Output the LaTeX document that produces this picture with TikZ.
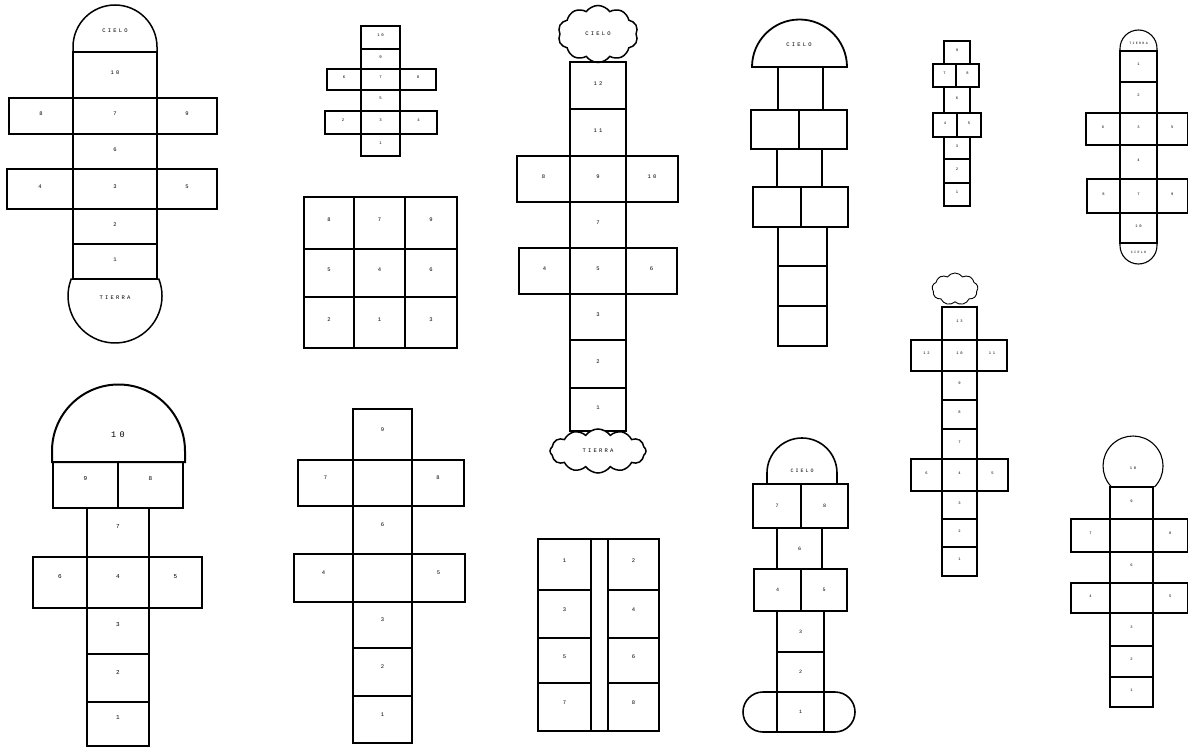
\documentclass[tikz,border=0pt]{standalone}
\usepackage{fontspec}
\newfontfamily\labfont{Liberation Mono}[LetterSpace=40]
\usetikzlibrary{shapes.symbols}
\tikzset{
  cl/.style={draw, line join=miter},
  lab/.style={inner sep=0pt},
  cloudnode/.style={cloud, draw, inner sep=0pt, cloud puff arc=110}
}
\def\lsh{2}
\newcommand\hcell[6]{\draw[cl] (#2,#3) rectangle (#4,#5); \node[lab] (#1) at ({(#2+#4)/2},{(#3+#5)/2-\lsh}) {#6};}
\newcommand\ecell[4]{\draw[cl] (#1,#2) rectangle (#3,#4);}
\newcommand\fs[1]{\labfont\fontsize{#1}{#1}\selectfont}
\begin{document}
\begin{tikzpicture}[x=1pt,y=-1pt]
\useasboundingbox (0,0) rectangle (1189,749);
\fill[white] (0,0) rectangle (1189,749);

% ---------- A: top left ----------
\begin{scope}[line width=1.5pt, font=\fs{5.5}]
\draw (73,52) -- (73,47) arc[start angle=180,end angle=360,radius=42] -- (157,52) -- cycle;
\node[lab] (aC) at (115,31) {CIELO};
\hcell{a10}{73}{52}{157}{98}{10}
\hcell{a8}{9}{98}{73}{134}{8}
\hcell{a7}{73}{98}{157}{134}{7}
\hcell{a9}{157}{98}{217}{134}{9}
\hcell{a6}{73}{134}{157}{169}{6}
\hcell{a4}{7}{169}{73}{209}{4}
\hcell{a3}{73}{169}{157}{209}{3}
\hcell{a5}{157}{169}{217}{209}{5}
\hcell{a2}{73}{209}{157}{244}{2}
\hcell{a1}{73}{244}{157}{279}{1}
\draw (71.2,279) arc[start angle=201.2,end angle=-21.2,radius=47] -- cycle;
\node[lab] (aT) at (115,298) {TIERRA};
\end{scope}

% ---------- B: small cross ----------
\begin{scope}[line width=1.1pt, font=\fs{4}]
\hcell{b10}{361}{26}{400}{49}{10}
\hcell{b9}{361}{49}{400}{69}{9}
\hcell{b6}{327}{69}{361}{90}{6}
\hcell{b7}{361}{69}{400}{90}{7}
\hcell{b8}{400}{69}{436}{90}{8}
\hcell{b5}{361}{90}{400}{111}{5}
\hcell{b2}{325}{111}{361}{134}{2}
\hcell{b3}{361}{111}{400}{134}{3}
\hcell{b4}{400}{111}{437}{134}{4}
\hcell{b1}{361}{134}{400}{156}{1}
\end{scope}

% ---------- grid ----------
\begin{scope}[line width=1.7pt, font=\fs{5.5}]
\def\lsh{3}
\hcell{g8a}{304}{197}{354}{249}{8}
\hcell{g7a}{354}{197}{405}{249}{7}
\hcell{g9a}{405}{197}{457}{249}{9}
\hcell{g5a}{304}{249}{354}{297}{5}
\hcell{g4a}{354}{249}{405}{297}{4}
\hcell{g6a}{405}{249}{457}{297}{6}
\hcell{g2a}{304}{297}{354}{348}{2}
\hcell{g1a}{354}{297}{405}{348}{1}
\hcell{g3a}{405}{297}{457}{348}{3}
\end{scope}

% ---------- C: tall with clouds ----------
\begin{scope}[line width=1.5pt, font=\fs{5.5}]
\node[cloudnode, cloud puffs=10, aspect=1.4, minimum width=80pt, minimum height=57pt] (cTop) at (598,34) {CIELO};
\hcell{c12}{570}{62}{626}{109}{12}
\hcell{c11}{570}{109}{626}{156}{11}
\hcell{c8}{517}{156}{570}{202}{8}
\hcell{c9}{570}{156}{626}{202}{9}
\hcell{c10}{626}{156}{678}{202}{10}
\hcell{c7}{570}{202}{626}{248}{7}
\hcell{c4}{519}{248}{570}{294}{4}
\hcell{c5}{570}{248}{626}{294}{5}
\hcell{c6}{626}{248}{677}{294}{6}
\hcell{c3}{570}{294}{626}{340}{3}
\hcell{c2}{570}{340}{626}{388}{2}
\hcell{c1}{570}{388}{626}{431}{1}
\node[cloudnode, cloud puffs=12, aspect=2.2, minimum width=96pt, minimum height=44pt, fill=white] (cBot) at (598,451) {TIERRA};
\end{scope}

% ---------- D: mushroom, no numbers ----------
\begin{scope}[line width=1.8pt, font=\fs{5.5}]
\draw (752,67) arc[start angle=180,end angle=360,radius=47.5] -- cycle;
\node[lab] (dC) at (799,45) {CIELO};
\ecell{778}{67}{823}{110}
\ecell{751}{110}{799}{149}
\ecell{799}{110}{847}{149}
\ecell{777}{149}{822}{187}
\ecell{753}{187}{801}{227}
\ecell{801}{187}{848}{227}
\ecell{778}{227}{827}{266}
\ecell{778}{266}{827}{306}
\ecell{778}{306}{827}{346}
\end{scope}

% ---------- E: small column ----------
\begin{scope}[line width=1.1pt, font=\fs{3.8}]
\hcell{e9}{944}{41}{970}{64}{9}
\hcell{e7}{933}{64}{956}{87}{7}
\hcell{e8}{956}{64}{979}{87}{8}
\hcell{e6}{944}{87}{970}{113}{6}
\hcell{e4}{933}{113}{957}{137}{4}
\hcell{e5}{957}{113}{981}{137}{5}
\hcell{e3}{944}{137}{970}{159}{3}
\hcell{e2}{944}{159}{970}{183}{2}
\hcell{e1}{944}{183}{970}{206}{1}
\end{scope}

% ---------- F: right top ----------
\begin{scope}[line width=1.1pt, font=\fs{3.8}]
\draw (1120,51) -- (1120,48.5) arc[start angle=180,end angle=360,radius=18.5] -- (1157,51);
\node[lab, font=\fs{3.3}] (fT) at (1138.5,43) {TIERRA};
\hcell{f1}{1120}{51}{1157}{82}{1}
\hcell{f2}{1120}{82}{1157}{113}{2}
\hcell{f6}{1086}{113}{1120}{145}{6}
\hcell{f3}{1120}{113}{1157}{145}{3}
\hcell{f5}{1157}{113}{1187.5}{145}{5}
\hcell{f4}{1120}{145}{1157}{179}{4}
\hcell{f8}{1087}{179}{1120}{213}{8}
\hcell{f7}{1120}{179}{1157}{213}{7}
\hcell{f9}{1157}{179}{1187.5}{213}{9}
\hcell{f10}{1120}{213}{1157}{243}{10}
\draw (1120,243) -- (1120,245.5) arc[start angle=180,end angle=0,radius=18.5] -- (1157,243);
\node[lab, font=\fs{3.3}] (fC) at (1138.5,252) {CIELO};
\end{scope}

% ---------- G: bottom left ----------
\begin{scope}[line width=2pt, font=\fs{6}]
\def\lsh{6}
\draw (52,462) -- (52,451) arc[start angle=180,end angle=360,radius=66.5] -- (185,462) -- cycle;
\node[lab, font=\fs{8.5}] (g10) at (118,435) {10};
\hcell{g9}{53}{462}{118}{508}{9}
\hcell{g8}{118}{462}{183}{508}{8}
\hcell{g7}{87}{508}{149}{557}{7}
\hcell{g6}{33}{557}{87}{608}{6}
\hcell{g4}{87}{557}{149}{608}{4}
\hcell{g5}{149}{557}{202}{608}{5}
\hcell{g3}{87}{608}{149}{654}{3}
\hcell{g2}{87}{654}{149}{702}{2}
\hcell{g1}{87}{702}{149}{746}{1}
\end{scope}

% ---------- H: bottom middle-left ----------
\begin{scope}[line width=1.8pt, font=\fs{5.5}]
\def\lsh{5}
\hcell{h9}{353}{409}{412}{460}{9}
\hcell{h7}{298}{460}{353}{506}{7}
\ecell{353}{460}{412}{506}
\hcell{h8}{412}{460}{464}{506}{8}
\hcell{h6}{353}{506}{412}{554}{6}
\hcell{h4}{294}{554}{353}{602}{4}
\ecell{353}{554}{412}{602}
\hcell{h5}{412}{554}{465}{602}{5}
\hcell{h3}{353}{602}{412}{648}{3}
\hcell{h2}{353}{648}{412}{696}{2}
\hcell{h1}{353}{696}{412}{743}{1}
\end{scope}

% ---------- I: two columns ----------
\begin{scope}[line width=1.8pt, font=\fs{5.5}]
\def\lsh{4}
\hcell{i1}{538}{539}{591}{590}{1}
\hcell{i3}{538}{590}{591}{638}{3}
\hcell{i5}{538}{638}{591}{683}{5}
\hcell{i7}{538}{683}{591}{731}{7}
\ecell{591}{539}{608}{731}
\hcell{i2}{608}{539}{659}{590}{2}
\hcell{i4}{608}{590}{659}{638}{4}
\hcell{i6}{608}{638}{659}{683}{6}
\hcell{i8}{608}{683}{659}{731}{8}
\end{scope}

% ---------- J: bottom center-right ----------
\begin{scope}[line width=1.6pt, font=\fs{5}]
\def\lsh{0}
\draw (767,484) -- (767,473) arc[start angle=180,end angle=360,radius=35] -- (837,484);
\node[lab] (jC) at (802,471) {CIELO};
\hcell{j7}{753}{484}{801}{528}{7}
\hcell{j8}{801}{484}{848}{528}{8}
\hcell{j6}{777}{528}{822}{569}{6}
\hcell{j4}{754}{569}{801}{611}{4}
\hcell{j5}{801}{569}{847}{611}{5}
\hcell{j3}{777}{611}{824}{652}{3}
\hcell{j2}{777}{652}{824}{692}{2}
\hcell{j1}{777}{692}{824}{732}{1}
\draw (777,692) -- (763,692) arc[start angle=270,end angle=90,radius=20] -- (777,732);
\draw (824,692) -- (835,692) arc[start angle=270,end angle=450,radius=20] -- (824,732);
\end{scope}

% ---------- K: right middle ----------
\begin{scope}[line width=1.1pt, font=\fs{3.8}]
\node[cloudnode, cloud puffs=9, aspect=1.4, minimum width=46pt, minimum height=32pt, line width=0.9pt] (kC) at (955,289) {};
\hcell{k13}{942}{307}{977}{340}{13}
\hcell{k12}{911}{340}{942}{371}{12}
\hcell{k10}{942}{340}{977}{371}{10}
\hcell{k11}{977}{340}{1007}{371}{11}
\hcell{k9}{942}{371}{977}{400}{9}
\hcell{k8}{942}{400}{977}{429}{8}
\hcell{k7}{942}{429}{977}{459}{7}
\hcell{k6}{911}{459}{942}{491}{6}
\hcell{k4}{942}{459}{977}{491}{4}
\hcell{k5}{977}{459}{1008}{491}{5}
\hcell{k3}{942}{491}{977}{519}{3}
\hcell{k2}{942}{519}{977}{547}{2}
\hcell{k1}{942}{547}{977}{576}{1}
\end{scope}

% ---------- L: bottom right ----------
\begin{scope}[line width=1.1pt, font=\fs{3.8}]
\draw (1111.6,487) arc[start angle=135.6,end angle=404.4,radius=30];
\node[lab] (l10) at (1133,468) {10};
\hcell{l9}{1110}{487}{1153}{519}{9}
\hcell{l7}{1071}{519}{1110}{552}{7}
\ecell{1110}{519}{1153}{552}
\hcell{l8}{1153}{519}{1187.5}{552}{8}
\hcell{l6}{1110}{552}{1153}{583}{6}
\hcell{l4}{1071}{583}{1110}{613}{4}
\ecell{1110}{583}{1153}{613}
\hcell{l5}{1153}{583}{1187.5}{613}{5}
\hcell{l3}{1110}{613}{1153}{646}{3}
\hcell{l2}{1110}{646}{1153}{677}{2}
\hcell{l1}{1110}{677}{1153}{707}{1}
\end{scope}
\end{tikzpicture}
\end{document}
